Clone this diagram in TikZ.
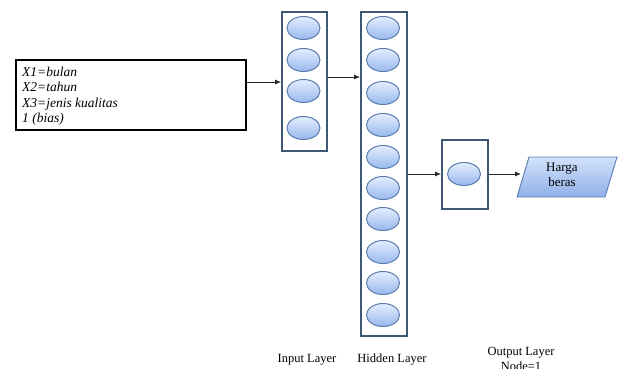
\documentclass[tikz,border=0pt]{standalone}
\usepackage{fontspec}
\setmainfont{Liberation Serif}
\usetikzlibrary{shapes.geometric,arrows.meta}
\definecolor{framec}{HTML}{3F5873}
\definecolor{ellborder}{HTML}{5A7CAD}
\definecolor{elltop}{HTML}{E4EEFD}
\definecolor{ellbot}{HTML}{98B8EE}
\definecolor{paratop}{HTML}{D2E2FB}
\definecolor{parabot}{HTML}{8FB0EA}
\tikzset{
  layerbox/.style={draw=framec, line width=1.6pt},
  neuron/.style={ellipse, draw=ellborder, line width=1pt, minimum width=33pt, minimum height=23pt, inner sep=0pt, top color=elltop, bottom color=ellbot},
  conn/.style={-{Latex[length=6pt,width=5pt]}, line width=0.8pt, black!85},
  lbl/.style={font=\fontsize{12.5}{14}\selectfont, inner sep=0pt, align=center}
}
\begin{document}
\begin{tikzpicture}[x=1pt,y=-1pt]
\useasboundingbox (0,0) rectangle (618,368);
% input text box
\node[draw=black, line width=1.6pt, minimum width=230pt, minimum height=70pt, anchor=north west, inner sep=0pt] (inbox) at (15,59) {};
\node[anchor=north west, inner sep=0pt, align=left, font=\fontsize{13.5}{15.3}\selectfont\itshape] (intext) at (22,67)
  {X1=bulan\\X2=tahun\\X3=jenis kualitas\\1 (bias)};
% input layer
\node[layerbox, minimum width=45pt, minimum height=139pt, anchor=north west, inner sep=0pt] (inlayer) at (281,11) {};
\foreach \i/\y in {1/28,2/60,3/91,4/128}{
  \node[neuron] (i\i) at (303.5,\y) {};
}
% hidden layer
\node[layerbox, minimum width=46pt, minimum height=324pt, anchor=north west, inner sep=0pt] (hidlayer) at (360,11) {};
\foreach \i/\y in {1/28,2/60,3/93,4/125,5/157,6/188,7/219,8/252,9/283,10/315}{
  \node[neuron] (h\i) at (383,\y) {};
}
% output layer
\node[layerbox, minimum width=46pt, minimum height=69pt, anchor=north west, inner sep=0pt] (outlayer) at (441,139) {};
\node[neuron] (o1) at (464,174) {};
% output parallelogram
\coordinate (p1) at (529,157);
\coordinate (p2) at (617,157);
\coordinate (p3) at (605,197);
\coordinate (p4) at (517,197);
\shade[top color=paratop, bottom color=parabot] (p1) -- (p2) -- (p3) -- (p4) -- cycle;
\draw[ellborder, line width=0.9pt] (p1) -- (p2) -- (p3) -- (p4) -- cycle;
\node[lbl, font=\fontsize{13}{15}\selectfont] (harga) at (562,175) {Harga\\beras};
\coordinate (parain) at (521,174);
% connectors
\draw[conn] (inbox.east |- 0,82) -- (inlayer.west |- 0,82);
\draw[conn] (inlayer.east |- 0,77) -- (hidlayer.west |- 0,77);
\draw[conn] (hidlayer.east |- o1) -- (outlayer.west |- o1);
\draw[conn] (outlayer.east |- o1) -- (parain);
% labels
\node[lbl] (linput) at (307,360) {Input Layer};
\node[lbl] (lhidden) at (392,360) {Hidden Layer};
\node[lbl, align=center, font=\fontsize{12.5}{15}\selectfont] (loutput) at (521,359) {Output Layer\\Node=1};
\end{tikzpicture}
\end{document}
